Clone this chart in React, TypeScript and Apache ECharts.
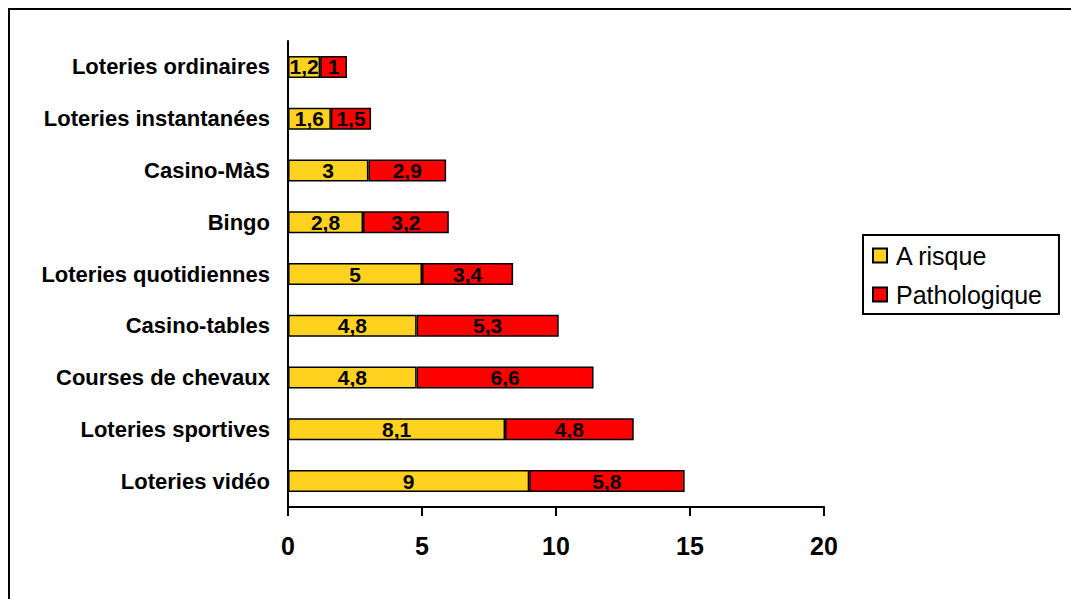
import React, { useEffect, useRef } from "react";
import * as echarts from "echarts";

const categories = [
  "Loteries vidéo",
  "Loteries sportives",
  "Courses de chevaux",
  "Casino-tables",
  "Loteries quotidiennes",
  "Bingo",
  "Casino-MàS",
  "Loteries instantanées",
  "Loteries ordinaires",
];
const aRisque = [9, 8.1, 4.8, 4.8, 5, 2.8, 3, 1.6, 1.2];
const pathologique = [5.8, 4.8, 6.6, 5.3, 3.4, 3.2, 2.9, 1.5, 1];
const seriesNames = ["A risque", "Pathologique"];
const xTicks = [0, 5, 10, 15, 20];

const FONT = "'Liberation Sans', Arial, sans-serif";

export default function App() {
  const ref = useRef<HTMLDivElement>(null);
  useEffect(() => {
    if (!ref.current) return;
    const chart = echarts.init(ref.current, null, { renderer: "svg" });
    const fmt = (p: any) => String(p.value).replace(".", ",");
    const labelStyle = {
      show: true,
      position: "inside",
      color: "#000",
      fontFamily: FONT,
      fontWeight: "bold",
      fontSize: 21,
      formatter: fmt,
    };
    chart.setOption({
      animation: false,
      backgroundColor: "#fff",
      textStyle: { fontFamily: FONT },
      graphic: [
        {
          type: "line",
          shape: { x1: 0, y1: 1, x2: 1063, y2: 1 },
          style: { stroke: "#000", lineWidth: 2 },
          silent: true,
        },
        {
          type: "line",
          shape: { x1: 1, y1: 0, x2: 1, y2: 591 },
          style: { stroke: "#000", lineWidth: 2 },
          silent: true,
        },
      ],
      grid: { left: 280, top: 33, width: 536, height: 466, containLabel: false },
      legend: {
        left: 855,
        top: 227,
        orient: "vertical",
        data: seriesNames,
        itemWidth: 14,
        itemHeight: 14,
        itemGap: 14,
        padding: [8, 17, 7, 9],
        borderColor: "#000",
        borderWidth: 2,
        textStyle: { fontFamily: FONT, fontSize: 25, color: "#000", padding: [0, 0, 0, 4] },
        icon: "rect",
      },
      xAxis: {
        type: "value",
        min: xTicks[0],
        max: xTicks[xTicks.length - 1],
        interval: 5,
        splitLine: { show: false },
        axisLine: { show: true, lineStyle: { color: "#000", width: 2 } },
        axisTick: { show: true, length: 9, lineStyle: { color: "#000", width: 2 } },
        axisLabel: {
          color: "#000",
          fontFamily: FONT,
          fontWeight: "bold",
          fontSize: 25,
          margin: 26,
        },
      },
      yAxis: {
        type: "category",
        data: categories,
        axisLine: { show: true, lineStyle: { color: "#000", width: 2 } },
        axisTick: { show: false },
        axisLabel: {
          color: "#000",
          fontFamily: FONT,
          fontWeight: "bold",
          fontSize: 22,
          margin: 18,
        },
      },
      series: [
        {
          name: seriesNames[0],
          type: "bar",
          stack: "total",
          data: aRisque,
          barWidth: 22,
          itemStyle: { color: "#FFD21F", borderColor: "#000", borderWidth: 1.5 },
          label: labelStyle,
        },
        {
          name: seriesNames[1],
          type: "bar",
          stack: "total",
          data: pathologique,
          barWidth: 22,
          itemStyle: { color: "#FF0000", borderColor: "#000", borderWidth: 1.5 },
          label: labelStyle,
        },
      ],
    });
    return () => chart.dispose();
  }, []);
  return (
    <div
      ref={ref}
      style={{ position: "absolute", left: 8, top: 8, width: 1063, height: 591 }}
    />
  );
}
